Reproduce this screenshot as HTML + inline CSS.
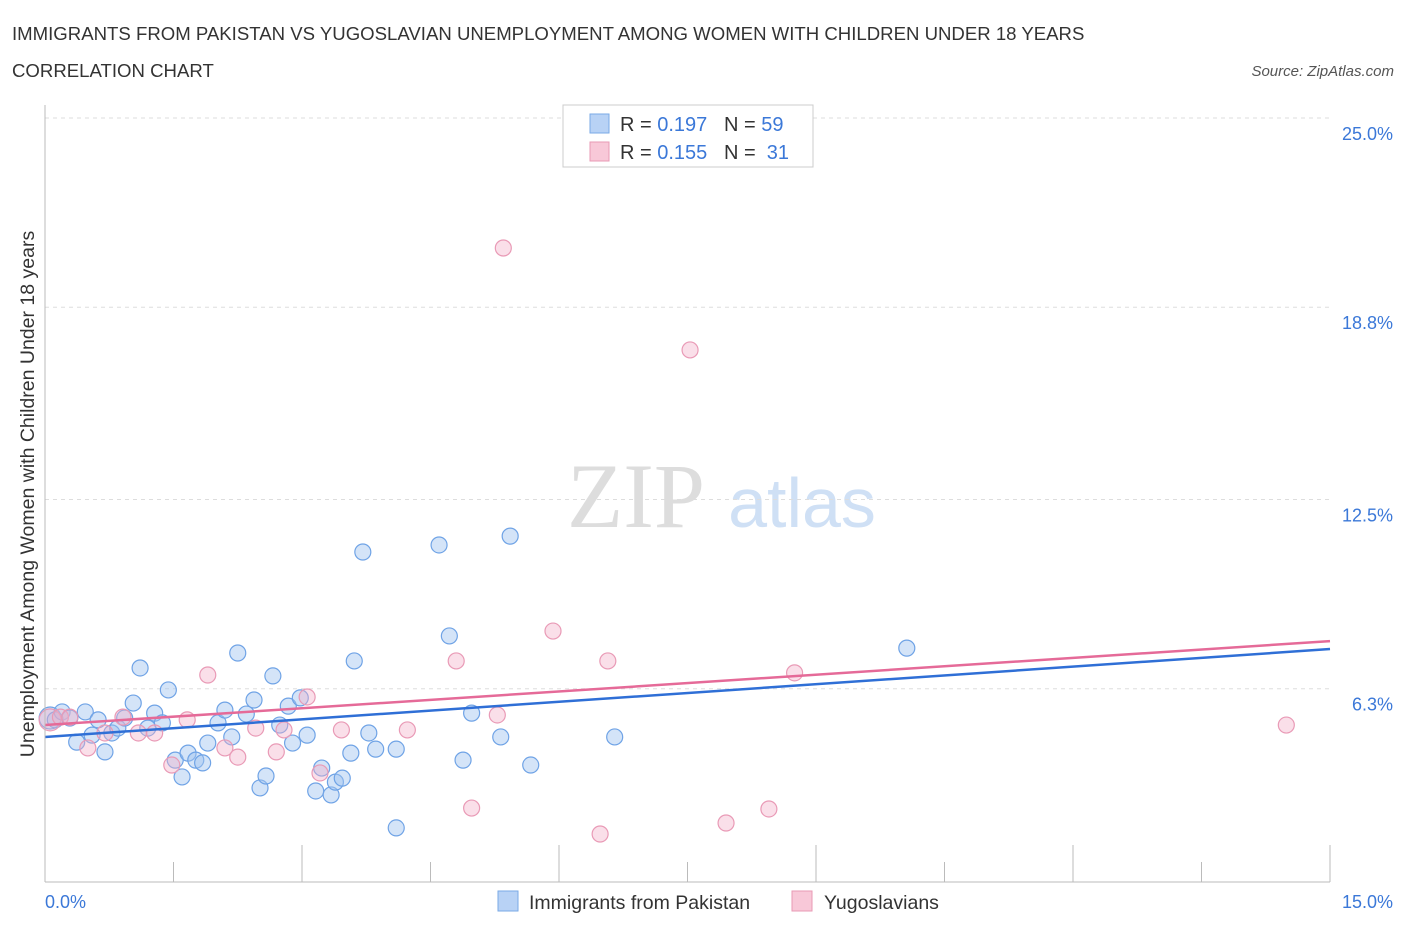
<!DOCTYPE html>
<html><head><meta charset="utf-8"><style>
body{margin:0;width:1406px;height:930px;background:#fff;font-family:"Liberation Sans",sans-serif;overflow:hidden}
</style></head><body>
<svg id="chart" width="1406" height="930" xmlns="http://www.w3.org/2000/svg">
<text x="12" y="40" font-size="18.6" fill="#333">IMMIGRANTS FROM PAKISTAN VS YUGOSLAVIAN UNEMPLOYMENT AMONG WOMEN WITH CHILDREN UNDER 18 YEARS</text>
<text x="12" y="77" font-size="18.6" fill="#333">CORRELATION CHART</text>
<text x="1394" y="76" font-size="15" fill="#555" font-style="italic" text-anchor="end">Source: ZipAtlas.com</text>
<g>
<text x="636" y="527" font-size="92" fill="#ddd" font-family="Liberation Serif,serif" text-anchor="middle">ZIP</text>
<text x="802" y="527" font-size="70" fill="#cfe0f5" text-anchor="middle">atlas</text>
</g>
<text transform="translate(34,494) rotate(-90)" font-size="19.5" fill="#333" text-anchor="middle">Unemployment Among Women with Children Under 18 years</text>
<g id="grid"></g><g id="ticks"></g><g id="pts"></g><g id="lines"></g>
<line x1="45" y1="882" x2="1330" y2="882" stroke="#bbb"/>
<line x1="45" y1="105" x2="45" y2="882" stroke="#bbb"/>
<text x="45" y="908" font-size="18" fill="#3b78d8">0.0%</text>
<text x="1393" y="908" font-size="18" fill="#3b78d8" text-anchor="end">15.0%</text>
<g>
<rect x="563" y="105" width="250" height="62" fill="#fff" stroke="#ccc"/>
<rect x="590" y="114" width="19" height="19" fill="#b8d2f5" stroke="#7aaae6"/>
<rect x="590" y="142" width="19" height="19" fill="#f8c8d8" stroke="#e89ab5"/>
<text x="620" y="131" font-size="20" fill="#333" xml:space="preserve">R = <tspan fill="#3b78d8">0.197</tspan>   N = <tspan fill="#3b78d8">59</tspan></text>
<text x="620" y="159" font-size="20" fill="#333" xml:space="preserve">R = <tspan fill="#3b78d8">0.155</tspan>   N =  <tspan fill="#3b78d8">31</tspan></text>
</g>
<g>
<rect x="498" y="891" width="20" height="20" fill="#b8d2f5" stroke="#7aaae6"/>
<text x="529" y="909" font-size="19.5" fill="#333">Immigrants from Pakistan</text>
<rect x="792" y="891" width="20" height="20" fill="#f8c8d8" stroke="#e89ab5"/>
<text x="824" y="909" font-size="19.5" fill="#333">Yugoslavians</text>
</g>
</svg>
<script>
const yTicks=[6.3,12.5,18.8,25.0];
const xTickVals=[0,1.5,3,4.5,6,7.5,9,10.5,12,13.5,15];
const blueX=[0.06,0.12,0.20,0.29,0.37,0.47,0.55,0.62,0.70,0.78,0.85,0.93,1.03,1.11,1.20,1.28,1.37,1.44,1.52,1.60,1.67,1.76,1.84,1.90,2.02,2.10,2.18,2.25,2.35,2.44,2.51,2.58,2.66,2.74,2.84,2.89,2.98,3.06,3.16,3.23,3.34,3.39,3.47,3.57,3.61,3.71,3.78,3.86,4.10,4.10,4.60,4.72,4.88,4.98,5.32,5.43,5.67,6.65,10.06];
const blueY=[5.34,5.28,5.54,5.34,4.55,5.54,4.78,5.28,4.23,4.85,5.01,5.34,5.83,6.98,5.01,5.50,5.18,6.26,3.96,3.41,4.19,3.96,3.87,4.52,5.18,5.60,4.72,7.47,5.47,5.93,3.05,3.44,6.72,5.11,5.73,4.52,6.00,4.78,2.95,3.70,2.82,3.24,3.37,4.19,7.21,10.78,4.85,4.32,4.32,1.74,11.01,8.03,3.96,5.50,4.72,11.30,3.80,4.72,7.63];
const pinkX=[0.06,0.18,0.29,0.50,0.70,0.91,1.09,1.28,1.48,1.66,1.90,2.10,2.25,2.46,2.70,2.79,3.06,3.21,3.46,4.23,4.80,4.98,5.28,5.35,5.93,6.48,6.57,7.53,7.95,8.45,8.75,14.49];
const pinkY=[5.28,5.37,5.37,4.36,4.85,5.37,4.85,4.85,3.80,5.28,6.75,4.36,4.06,5.01,4.23,4.95,6.03,3.54,4.95,4.95,7.21,2.39,5.44,20.74,8.19,1.54,7.21,17.40,1.90,2.36,6.82,5.11];
const blueTrend=[4.72,7.60];
const pinkTrend=[5.11,7.86];
const NS='http://www.w3.org/2000/svg';
const sx=v=>45+v/15*1285;
const sy=v=>881-v/25*763;
function mk(t,a,p){const e=document.createElementNS(NS,t);for(const k in a)e.setAttribute(k,a[k]);document.getElementById(p).appendChild(e);return e;}
yTicks.forEach(v=>{
 const l=mk('line',{x1:45,x2:1330,y1:sy(v),y2:sy(v),stroke:'#ddd','stroke-dasharray':'4,4'},'grid');
 
 
 const t=mk('text',{x:1393,y:sy(v)+22,'font-size':18,fill:'#3b78d8','text-anchor':'end'},'grid');
 t.textContent=v.toFixed(1)+'%';
 
 
});
xTickVals.forEach((v,i)=>{
 const l=mk('line',{x1:sx(v),x2:sx(v),y1:882,y2:i%2?862:845,stroke:'#bbb'},'ticks');
 
 
});
blueX.forEach((x,i)=>{
 const c=mk('circle',{cx:sx(x),cy:sy(blueY[i]),r:i==0?11:8,fill:'rgba(160,196,240,0.45)',stroke:'#6fa3e6','stroke-width':1.2},'pts');
 
 
});
pinkX.forEach((x,i)=>{
 const c=mk('circle',{cx:sx(x),cy:sy(pinkY[i]),r:i==0?11:8,fill:'rgba(243,175,200,0.4)',stroke:'#e99ab6','stroke-width':1.2},'pts');
 
 
});
const bl=mk('line',{x1:sx(0),y1:sy(blueTrend[0]),x2:sx(15),y2:sy(blueTrend[1]),stroke:'#2f6fd6','stroke-width':2.5},'lines');


const pl=mk('line',{x1:sx(0),y1:sy(pinkTrend[0]),x2:sx(15),y2:sy(pinkTrend[1]),stroke:'#e56a98','stroke-width':2.5},'lines');


</script>
</body></html>
